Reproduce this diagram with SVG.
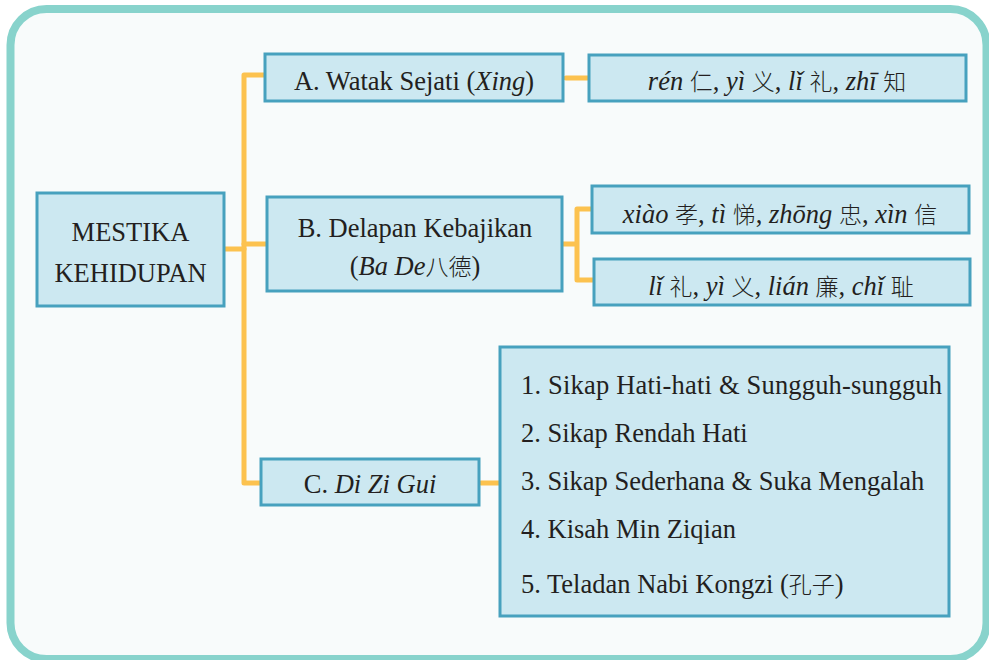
<svg xmlns="http://www.w3.org/2000/svg" width="989" height="660" viewBox="0 0 989 660">
<style>
.box{fill:#cce8f1;stroke:#47a1be;stroke-width:3}
.t{font-family:"Liberation Serif","Noto Sans CJK SC",serif;font-size:26.5px;fill:#231f20}
.m{text-anchor:middle}
.i{font-style:italic}
.c{font-family:"Noto Sans CJK SC",sans-serif;font-size:23px;font-weight:300}
.con{fill:none;stroke:#fcc24f;stroke-width:5;stroke-linecap:round;stroke-linejoin:round}
</style>
<rect x="0" y="0" width="989" height="660" fill="#ffffff"/>
<rect x="10.5" y="9" width="976" height="650" rx="36" fill="#f8fbfb" stroke="#88d3cc" stroke-width="8"/>
<g id="connectors">
<path class="con" d="M265,75 H244 V483 H261"/>
<path class="con" d="M224,249 H244"/>
<path class="con" d="M244,244 H267"/>
<path class="con" d="M566,78 H588"/>
<path class="con" d="M563,244 H577 M592,209 H577 V280 H594"/>
<path class="con" d="M481,483 H500"/>
</g>
<g id="root">
<rect class="box" x="37" y="193" width="187" height="113"/>
<text class="t m" x="130.5" y="241">MESTIKA</text>
<text class="t m" x="130.5" y="282">KEHIDUPAN</text>
</g>
<g id="nodeA">
<rect class="box" x="265" y="54" width="298" height="47"/>
<text class="t m" x="414" y="90">A. Watak Sejati (<tspan class="i">Xing</tspan>)</text>
</g>
<g id="nodeA1">
<rect class="box" x="589" y="55" width="377" height="46"/>
<text class="t m" x="777" y="90"><tspan class="i">rén</tspan> <tspan class="c">仁</tspan>, <tspan class="i">yì</tspan> <tspan class="c">义</tspan>, <tspan class="i">lǐ</tspan> <tspan class="c">礼</tspan>, <tspan class="i">zhī</tspan> <tspan class="c">知</tspan></text>
</g>
<g id="nodeB">
<rect class="box" x="267" y="197" width="295" height="94"/>
<text class="t m" x="415" y="237">B. Delapan Kebajikan</text>
<text class="t m" x="415" y="275">(<tspan class="i">Ba De</tspan><tspan class="c">八德</tspan>)</text>
</g>
<g id="nodeB1">
<rect class="box" x="592" y="186" width="377" height="47"/>
<text class="t m" x="780" y="223"><tspan class="i">xiào</tspan> <tspan class="c">孝</tspan>, <tspan class="i">tì</tspan> <tspan class="c">悌</tspan>, <tspan class="i">zhōng</tspan> <tspan class="c">忠</tspan>, <tspan class="i">xìn</tspan> <tspan class="c">信</tspan></text>
</g>
<g id="nodeB2">
<rect class="box" x="594" y="259" width="376" height="46"/>
<text class="t m" x="781" y="295"><tspan class="i">lǐ</tspan> <tspan class="c">礼</tspan>, <tspan class="i">yì</tspan> <tspan class="c">义</tspan>, <tspan class="i">lián</tspan> <tspan class="c">廉</tspan>, <tspan class="i">chǐ</tspan> <tspan class="c">耻</tspan></text>
</g>
<g id="nodeC">
<rect class="box" x="261" y="459" width="218" height="46"/>
<text class="t m" x="370" y="493">C. <tspan class="i">Di Zi Gui</tspan></text>
</g>
<g id="nodeC1">
<rect class="box" x="500" y="347" width="449" height="269"/>
<text class="t" x="521" y="394" textLength="421" lengthAdjust="spacing">1. Sikap Hati-hati &amp; Sungguh-sungguh</text>
<text class="t" x="521" y="442">2. Sikap Rendah Hati</text>
<text class="t" x="521" y="490">3. Sikap Sederhana &amp; Suka Mengalah</text>
<text class="t" x="521" y="538">4. Kisah Min Ziqian</text>
<text class="t" x="521" y="593">5. Teladan Nabi Kongzi (<tspan class="c">孔子</tspan>)</text>
</g>
</svg>
